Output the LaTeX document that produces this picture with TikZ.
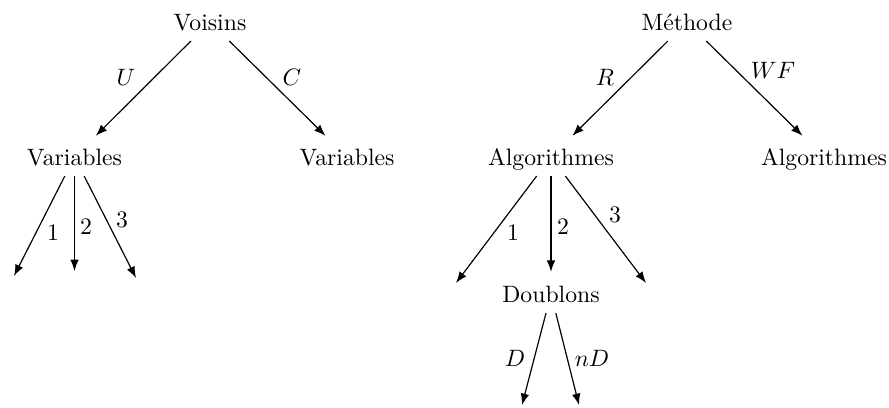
\documentclass[tikz,border=0pt]{standalone}
\usepackage{fontspec}
\usetikzlibrary{arrows.meta}
\begin{document}
\begin{tikzpicture}[x=0.422pt,y=-0.422pt,
  tnode/.style={inner sep=0pt,outer sep=4.6pt,text height=6.9pt,text depth=0pt},
  lab/.style={inner sep=0pt},
  arr/.style={line width=0.5pt,-{Latex[length=4.8pt,width=3.6pt]}},
  narr/.style={arr,shorten >=1.3pt}]
\useasboundingbox (0,0) rectangle (889,407);
% left tree
\node[tnode] (v) at (210,22) {Voisins};
\node[tnode] (va) at (74.5,157) {Variables};
\node[tnode] (vb) at (347,157) {Variables};
\coordinate (e1) at (14,276);
\coordinate (e2) at (74.5,271);
\coordinate (e3) at (136,278);
\draw[narr] (v) -- (va);
\draw[narr] (v) -- (vb);
\draw[arr] (va) -- (e1);
\draw[arr] (va) -- (e2);
\draw[arr] (va) -- (e3);
\node[lab] (lU) at (126,77) {$U$};
\node[lab] (lC) at (292,77) {$C$};
\node[lab] (l1) at (53,233) {$1$};
\node[lab] (l2) at (86,227) {$2$};
\node[lab] (l3) at (122,220) {$3$};
% right tree
\node[tnode] (m) at (687,22) {Méthode};
\node[tnode] (aa) at (551,157) {Algorithmes};
\node[tnode] (ab) at (824,157) {Algorithmes};
\node[tnode] (d) at (551,294) {Doublons};
\coordinate (f1) at (456,283);
\coordinate (f3) at (646,283);
\coordinate (g1) at (522,405);
\coordinate (g2) at (579,405);
\draw[narr] (m) -- (aa);
\draw[narr] (m) -- (ab);
\draw[arr] (aa) -- (f1);
\draw[narr] (aa) -- (d);
\draw[arr] (aa) -- (f3);
\draw[arr] (d) -- (g1);
\draw[arr] (d) -- (g2);
\node[lab] (lR) at (605,77) {$R$};
\node[lab] (lWF) at (773,70) {$WF$};
\node[lab] (m1) at (513,233) {$1$};
\node[lab] (m2) at (563,227) {$2$};
\node[lab] (m3) at (615,215) {$3$};
\node[lab] (lD) at (515,358) {$D$};
\node[lab] (lnD) at (592,358) {$nD$};
\end{tikzpicture}
\end{document}
